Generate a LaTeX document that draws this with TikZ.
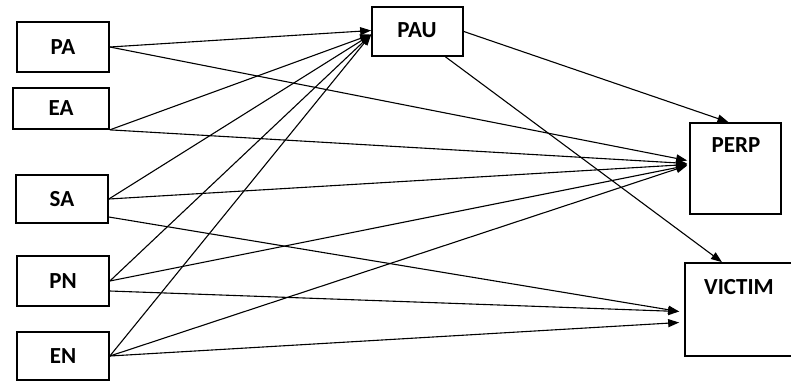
\documentclass[tikz,border=0pt]{standalone}
\usepackage{fontspec}
\setmainfont{Carlito}
\usetikzlibrary{arrows.meta}
\begin{document}
\begin{tikzpicture}[x=1pt,y=-1pt,
  box/.style={draw,line width=1.7pt,rectangle,inner sep=0pt},
  lbl/.style={font=\bfseries\fontsize{23}{25}\selectfont,inner sep=0pt},
  conn/.style={line width=1.1pt,-{Triangle[length=11pt,width=8pt]}}]
\useasboundingbox (0,0) rectangle (791,381);
\node[box,minimum width=92pt,minimum height=50pt,lbl] (PA) at (63,47) {PA};
\node[box,minimum width=96pt,minimum height=41pt,lbl] (EA) at (61,108.5) {EA};
\node[box,minimum width=92pt,minimum height=48pt,lbl] (SA) at (62,199) {SA};
\node[box,minimum width=92pt,minimum height=50pt,lbl] (PN) at (63,281) {PN};
\node[box,minimum width=92pt,minimum height=48pt,lbl] (EN) at (63,356) {EN};
\node[box,minimum width=91pt,minimum height=49pt] (PAU) at (417.5,31.5) {};
\node[lbl] (PAUt) at (417,30) {PAU};
\node[box,minimum width=91pt,minimum height=91pt] (PERP) at (735.5,168.5) {};
\node[lbl] (PERPt) at (736,145.5) {PERP};
\node[box,minimum width=110pt,minimum height=93pt] (VICTIM) at (740,309.5) {};
\node[lbl] (VICTIMt) at (739,287) {VICTIM};
% to PAU
\draw[conn] (PA.east) -- ([yshift=1pt]PAU.west);
\draw[conn] (EA.south east) -- ([yshift=-3pt]PAU.west);
\draw[conn] (SA.east) -- ([yshift=-3pt]PAU.west);
\draw[conn] (PN.east) -- ([yshift=-3pt]PAU.west);
\draw[conn] (EN.east) -- ([yshift=-3pt]PAU.west);
% to PERP
\draw[conn] (PA.east) -- ([xshift=-2pt,yshift=8pt]PERP.west);
\draw[conn] (EA.south east) -- ([xshift=-2pt,yshift=5pt]PERP.west);
\draw[conn] (SA.east) -- ([xshift=-2pt,yshift=4pt]PERP.west);
\draw[conn] (PN.east) -- ([xshift=-2pt,yshift=3pt]PERP.west);
\draw[conn] (EN.east) -- ([xshift=-2pt,yshift=3pt]PERP.west);
\draw[conn] (PAU.east) -- ([xshift=-7pt]PERP.north);
% to VICTIM
\draw[conn] ([yshift=-18pt]SA.east) -- ([xshift=-5pt,yshift=-2pt]VICTIM.west);
\draw[conn] ([yshift=-10pt]PN.east) -- ([xshift=-5pt,yshift=-2pt]VICTIM.west);
\draw[conn] (EN.east) -- ([xshift=-5pt,yshift=-13pt]VICTIM.west);
\draw[conn] ([xshift=28pt]PAU.south) -- ([xshift=-18pt]VICTIM.north);
\end{tikzpicture}
\end{document}
